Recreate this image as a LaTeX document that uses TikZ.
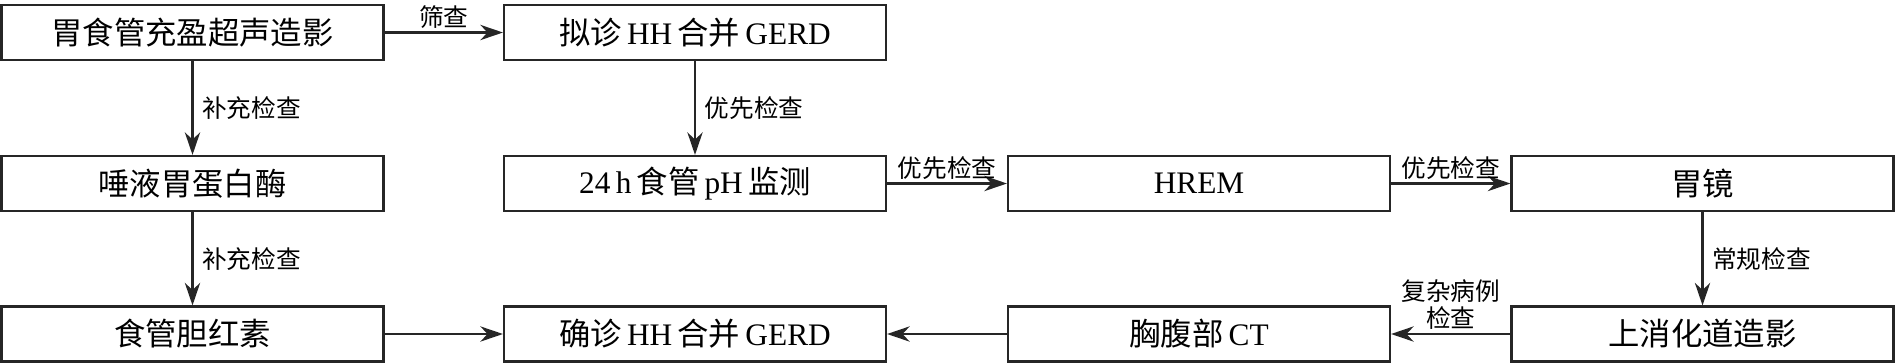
\documentclass[tikz,border=0pt]{standalone}
\usepackage{fontspec}
\setmainfont{Liberation Serif}
\newfontfamily\cjk{Noto Sans CJK SC}
\usetikzlibrary{arrows.meta}
\begin{document}
\begin{tikzpicture}[x=0.75pt,y=-0.75pt,
  box/.style={draw=black!85,line width=1.6pt,minimum width=286.5pt,minimum height=41.25pt,inner sep=0pt,font=\fontsize{23.5pt}{26pt}\selectfont,anchor=center},
  arr/.style={line width=1.6pt,draw=black!85,-{Stealth[length=17pt,width=11.5pt,inset=5.5pt]}},
  lab/.style={font=\fontsize{18.5pt}{21pt}\selectfont\cjk,inner sep=2.5pt}]
\useasboundingbox (0,0) rectangle (1895,362);
% boxes
\node[box] (a1) at (192.5,32.5) {\cjk 胃食管充盈超声造影};
\node[box] (a2) at (695,32.5) {{\cjk 拟诊}\,HH\,{\cjk 合并}\,GERD};
\node[box] (b1) at (192.5,183.5) {\cjk 唾液胃蛋白酶};
\node[box] (b2) at (695,183.5) {24\,h\,{\cjk 食管}\,pH\,{\cjk 监测}};
\node[box] (b3) at (1199,183.5) {HREM};
\node[box] (b4) at (1702.5,183.5) {\cjk 胃镜};
\node[box] (c1) at (192.5,334) {\cjk 食管胆红素};
\node[box] (c2) at (695,334) {{\cjk 确诊}\,HH\,{\cjk 合并}\,GERD};
\node[box] (c3) at (1199,334) {{\cjk 胸腹部}\,CT};
\node[box] (c4) at (1702.5,334) {\cjk 上消化道造影};
% connectors
\draw[arr] (a1) -- node[lab,above] {筛查} (a2);
\draw[arr] (a1) -- node[lab,right=4pt] {补充检查} (b1);
\draw[arr] (b1) -- node[lab,right=4pt] {补充检查} (c1);
\draw[arr] (a2) -- node[lab,right=4pt] {优先检查} (b2);
\draw[arr] (b2) -- node[lab,above] {优先检查} (b3);
\draw[arr] (b3) -- node[lab,above] {优先检查} (b4);
\draw[arr] (b4) -- node[lab,right=4pt] {常规检查} (c4);
\draw[arr] (c4) -- node[lab,above,align=center,font=\fontsize{18.5pt}{20pt}\selectfont\cjk] {复杂病例\\检查} (c3);
\draw[arr] (c3) -- (c2);
\draw[arr] (c1) -- (c2);
\end{tikzpicture}
\end{document}
